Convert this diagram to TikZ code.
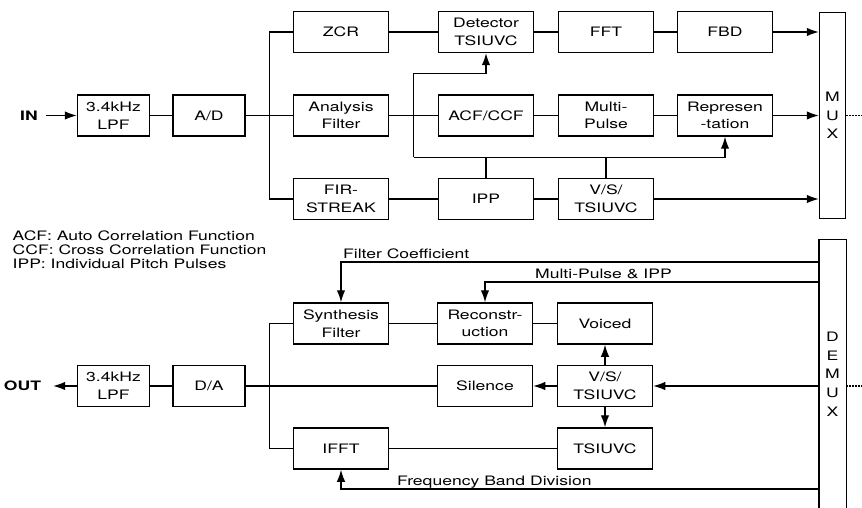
\documentclass[tikz,border=0pt]{standalone}
\usepackage{fontspec}
\setmainfont{TeX Gyre Heros}[FakeStretch=1.35]
\usetikzlibrary{positioning}
\usetikzlibrary{calc}
\usetikzlibrary{arrows.meta}
\tikzset{
	block/.style={draw, rectangle, line width=1.5pt, inner sep=2pt, minimum width=95pt, minimum height=41pt, align=center},
	lpfbox/.style={block, minimum width=72pt},
	muxbar/.style={draw, rectangle, line width=1.5pt, inner sep=0pt, minimum width=26pt, align=center, font=\fontsize{13}{18.7}\selectfont},
	term/.style={inner sep=2pt, font=\fontsize{13}{16}\selectfont\bfseries},
	% abbreviations and captions of the long lines
	notetext/.style={inner sep=0pt, anchor=base west},
}

\begin{document}
\begin{tikzpicture}[x=1pt, y=1pt, node distance=120pt, font=\fontsize{13}{17.7}\selectfont]
		\useasboundingbox (0,0) rectangle (862,-508);
		
		% analysis
		\node (in) [term] at (29,-115.5) {IN};
		\node (lpf1) [lpfbox] at (113.5,-115.5) {3.4kHz\\LPF};
		\node (ad) [lpfbox, right of=lpf1, xshift=-24.5pt] {A/D};
		
		\node (anaf) [block, right of=ad, xshift=12pt] {Analysis\\Filter};
		\node (zcr) [block, above of=anaf, yshift=-36.5pt] {ZCR};
		\node (fir) [block, below of=anaf, yshift=36.5pt] {FIR-\\STREAK};
		
		\node (det) [block, right of=zcr, xshift=25pt] {Detector\\TSIUVC};
		\node (acf) [block, right of=anaf, xshift=25pt] {ACF/CCF};
		\node (ipp) [block, right of=fir, xshift=25pt] {IPP};
		
		\node (fft) [block, right of=det] {FFT};
		\node (mpulse) [block, right of=acf] {Multi-\\Pulse};
		\node (vs1) [block, right of=ipp] {V/S/\\TSIUVC};
		
		\node (fbd) [block, right of=fft, xshift=-1pt] {FBD};
		\node (rep) [block, right of=mpulse, xshift=-1pt] {Represen\\-tation};
		
		\node (mux) [muxbar, minimum height=206pt, right of=rep, xshift=-12.5pt] {M\\U\\X};
		\coordinate (muxend) at (862,-115.5);
		
		\node (acfdef) [notetext] at (12.5,-240) {ACF: Auto Correlation Function};
		\node (ccfdef) [notetext] at (12.5,-254) {CCF: Cross Correlation Function};
		\node (ippdef) [notetext] at (12.5,-268) {IPP: Individual Pitch Pulses};
		
		% synthesis
		\node (out) [term] at (22.5,-386) {OUT};
		\node (da) [lpfbox] at (209,-386) {D/A};
		\node (lpf2) [lpfbox, left of=da, xshift=24.5pt] {3.4kHz\\LPF};
		
		\node (syn) [block] at (341,-323.5) {Synthesis\\Filter};
		\node (ifft) [block, below of=syn, yshift=-5pt] {IFFT};
		\node (rec) [block, right of=syn, xshift=24pt] {Reconstr-\\uction};
		\node (voiced) [block, right of=rec] {Voiced};
		\node (vs2) [block, below of=voiced, yshift=57.5pt] {V/S/\\TSIUVC};
		\node (sil) [block, left of=vs2] {Silence};
		\node (tsi) [block, below of=vs2, yshift=57.5pt] {TSIUVC};
		
		\node (demux) [muxbar, draw=none, minimum height=268pt, right of=vs2, xshift=107.5pt, yshift=12pt] {D\\E\\M\\U\\X};
		\coordinate (demuxend) at (862,-386);
		
		\node (fclab) [notetext] at (343,-258) {Filter Coefficient};
		\node (mplab) [notetext] at (535,-278) {Multi-Pulse \& IPP};
		\node (fbdlab) [notetext] at (397,-485) {Frequency Band Division};
		
		% branch points
		\coordinate (jin) at ($(ad.east)!0.5!(anaf.west)$);
		\coordinate (jout) at ($(da.east)!0.5!(syn.west |- da)$);
		\coordinate (bx) at ($(anaf.east)!0.5!(acf.west)$);
		\coordinate (by) at ($(acf.south)!0.5!(ipp.north)$);
		\coordinate (ty) at ($(det.south)!0.5!(acf.north)$);
		
		\begin{scope}[line width=1.2pt, black, >={Latex[length=12pt, width=8.5pt]}]
			\draw[->, shorten <=6pt] (in) -- (lpf1);
			\draw (lpf1) -- (ad);
			\draw (ad) -- (anaf);
			\draw (jin) |- (zcr);
			\draw (jin) |- (fir);
			
			\draw (zcr) -- (det);
			\draw (det) -- (fft);
			\draw (fft) -- (fbd);
			\draw[->] (fbd) -- (mux.west |- fbd);
			
			\draw (anaf) -- (acf);
			\draw (acf) -- (mpulse);
			\draw (mpulse) -- (rep);
			\draw[->] (rep) -- (mux);
			
			\draw (fir) -- (ipp);
			\draw (ipp) -- (vs1);
			\draw[->] (vs1) -- (mux.west |- vs1);
			
			\draw (ipp) -- (by);
			\draw (vs1) -- (vs1 |- by);
			\draw[->] (bx |- by) -- (rep.south |- by) -- (rep.south);
			\draw[->] (bx |- by) -- (bx |- ty) -- (ty) -- (det.south);
			
			\draw[dash pattern=on 1.5pt off 1.5pt] (mux) -- (muxend);
			
			% demux box, open at the bottom
			\draw[line width=1.5pt] (demux.south west) -- (demux.north west) -- (demux.north east) -- (demux.south east);
			\draw[dash pattern=on 1.5pt off 1.5pt] (demux.east |- demuxend) -- (demuxend);
			
			\draw[->] (demux.west |- 0,-262) -- (syn.north |- 0,-262) -- (syn.north);
			\draw[->] (demux.west |- 0,-282) -- (rec.north |- 0,-282) -- (rec.north);
			\draw[->] (demux.west |- 0,-489) -- (ifft.south |- 0,-489) -- (ifft.south);
			\draw[->] (demux.west |- vs2) -- (vs2);
			
			\draw[->] (vs2) -- (voiced);
			\draw[->] (vs2) -- (sil);
			\draw[->] (vs2) -- (tsi);
			
			\draw (syn) -- (rec);
			\draw (rec) -- (voiced);
			\draw (tsi) -- (ifft);
			\draw (sil) -- (da);
			\draw (syn) -| (jout) |- (ifft);
			
			\draw (lpf2) -- (da);
			\draw[->, shorten >=10pt] (lpf2) -- (out);
		\end{scope}
	\end{tikzpicture}
\end{document}
